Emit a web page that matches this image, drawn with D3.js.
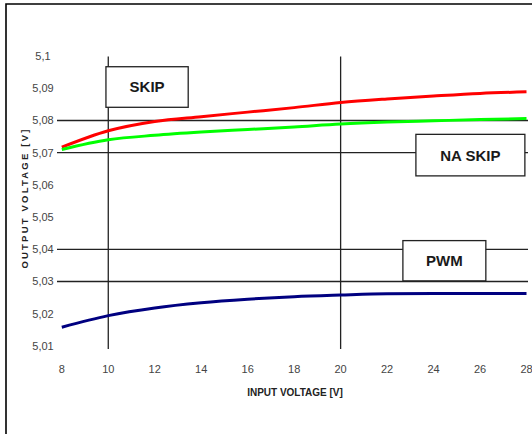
<!DOCTYPE html>
<html><head><meta charset="utf-8">
<script src="https://cdn.jsdelivr.net/npm/d3@7"></script>
<style>body{margin:0;background:#fff}svg{display:block}</style>
</head><body>
<script>
const inputVoltage = [8, 10, 12, 14, 16, 18, 20, 22, 24, 26, 28];
const skipSeries   = [5.0717, 5.0768, 5.0797, 5.0812, 5.0826, 5.0840, 5.0856, 5.0867, 5.0876, 5.0884, 5.0889];
const naSkipSeries = [5.0710, 5.0740, 5.0754, 5.0764, 5.0772, 5.0780, 5.0789, 5.0795, 5.0799, 5.0803, 5.0806];
const pwmSeries    = [5.0158, 5.0194, 5.0218, 5.0234, 5.0245, 5.0253, 5.0258, 5.0262, 5.0263, 5.0263, 5.0263];
const xTickValues = [8, 10, 12, 14, 16, 18, 20, 22, 24, 26, 28];
const yTickValues = [5.1, 5.09, 5.08, 5.07, 5.06, 5.05, 5.04, 5.03, 5.02, 5.01];
const yTickLabels = ["5,1", "5,09", "5,08", "5,07", "5,06", "5,05", "5,04", "5,03", "5,02", "5,01"];
const hLineValues = [5.08, 5.07, 5.04, 5.03];
const vLineValues = [10, 20];
const modeLabels = ["SKIP", "NA SKIP", "PWM"];
const xTitle = "INPUT VOLTAGE [V]";
const yTitle = "OUTPUT VOLTAGE [V]";

const W = 532, H = 434;
const svg = d3.select("body").append("svg").attr("width", W).attr("height", H);

const x = d3.scaleLinear().domain([8, 28]).range([61.8, 526.5]);
const y = d3.scaleLinear().domain([5.01, 5.1]).range([345.9, 56.1]);

// frame
svg.append("path").attr("d", `M6,${H} L6,4 L${W},4`).attr("fill", "none").attr("stroke", "#000").attr("stroke-width", 1.6);

const gridColor = "#222";
svg.selectAll(".hl").data(hLineValues).join("line")
  .attr("x1", 57).attr("x2", 528)
  .attr("y1", d => y(d)).attr("y2", d => y(d))
  .attr("stroke", gridColor).attr("stroke-width", 1.3);
svg.selectAll(".vl").data(vLineValues).join("line")
  .attr("x1", d => x(d)).attr("x2", d => x(d))
  .attr("y1", y(5.1) + 0.5).attr("y2", y(5.01) + 3)
  .attr("stroke", gridColor).attr("stroke-width", 1.3);

// boxes (data coordinates)
const boxes = [
  {label: modeLabels[0], x0: 9.90, x1: 13.44, y0: 5.0967, y1: 5.0841},
  {label: modeLabels[1], x0: 23.24, x1: 27.93, y0: 5.0757, y1: 5.0628},
  {label: modeLabels[2], x0: 22.68, x1: 26.25, y0: 5.0427, y1: 5.0302}
];
const bg = svg.selectAll(".box").data(boxes).join("g");
bg.append("rect")
  .attr("x", d => x(d.x0)).attr("y", d => y(d.y0))
  .attr("width", d => x(d.x1) - x(d.x0)).attr("height", d => y(d.y1) - y(d.y0))
  .attr("fill", "#fff").attr("stroke", "#222").attr("stroke-width", 1.3);
bg.append("text")
  .attr("x", d => (x(d.x0) + x(d.x1)) / 2)
  .attr("y", d => (y(d.y0) + y(d.y1)) / 2)
  .attr("dy", "0.36em").attr("text-anchor", "middle")
  .attr("font-family", "Liberation Sans, Arial, sans-serif")
  .attr("font-size", 15).attr("font-weight", "bold").attr("fill", "#1a1a1a")
  .text(d => d.label);

// curves
const series = [
  {vals: skipSeries, color: "#ff0000"},
  {vals: naSkipSeries, color: "#00ff00"},
  {vals: pwmSeries, color: "#000080"}
];
const line = d3.line().x((d, i) => x(inputVoltage[i])).y(d => y(d)).curve(d3.curveMonotoneX);
svg.selectAll(".curve").data(series).join("path")
  .attr("d", d => line(d.vals))
  .attr("fill", "none").attr("stroke", d => d.color).attr("stroke-width", 3);

// tick labels
svg.selectAll(".yt").data(yTickValues).join("text")
  .attr("x", 43).attr("y", d => y(d)).attr("dy", "0.36em")
  .attr("text-anchor", "middle")
  .attr("font-family", "Liberation Sans, Arial, sans-serif").attr("font-size", 11).attr("fill", "#444")
  .text((d, i) => yTickLabels[i]);
svg.selectAll(".xt").data(xTickValues).join("text")
  .attr("x", d => x(d)).attr("y", 369).attr("dy", "0.36em")
  .attr("text-anchor", "middle")
  .attr("font-family", "Liberation Sans, Arial, sans-serif").attr("font-size", 11).attr("fill", "#444")
  .text(d => d);

// axis titles
svg.append("text").attr("x", 295).attr("y", 392).attr("dy", "0.36em").attr("text-anchor", "middle")
  .attr("font-family", "Liberation Sans, Arial, sans-serif").attr("font-size", 10).attr("font-weight", "bold").attr("fill", "#222")
  .text(xTitle);
svg.append("text").attr("transform", "translate(25,198) rotate(-90)").attr("dy", "0.36em").attr("text-anchor", "middle")
  .attr("font-family", "Liberation Sans, Arial, sans-serif").attr("font-size", 9.5).attr("font-weight", "bold").attr("fill", "#222")
  .attr("letter-spacing", 2.2)
  .text(yTitle);
</script>
</body></html>
